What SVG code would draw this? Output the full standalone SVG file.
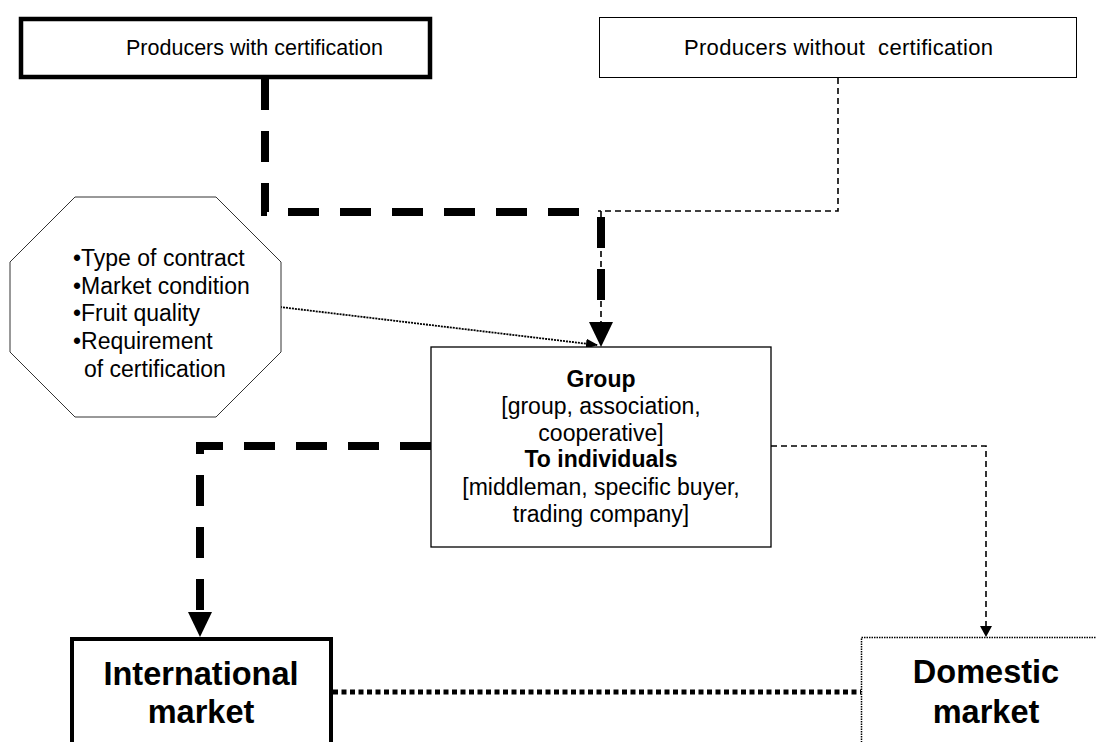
<svg xmlns="http://www.w3.org/2000/svg" width="1096" height="742" viewBox="0 0 1096 742">
<style>
text{font-family:"Liberation Sans",Arial,sans-serif;fill:#000}
.t21{font-size:21.5px}
.t23{font-size:23px}
.big{font-size:32.5px;font-weight:bold}
.b{font-weight:bold}
.thick{fill:none;stroke:#000;stroke-width:8;stroke-dasharray:31 21}
.thin{fill:none;stroke:#000;stroke-width:1.6;stroke-dasharray:6 4}
</style>
<defs>
<marker id="sm" markerWidth="12" markerHeight="10" refX="11" refY="5" orient="auto" markerUnits="userSpaceOnUse">
<path d="M0,0 L12,5 L0,10 Z" fill="#000"/>
</marker>
</defs>
<rect width="1096" height="742" fill="#fff"/>
<g id="connectors">
<path class="thick" d="M265,79 V212 H583"/>
<path class="thin" d="M838,78 V211 H598"/>
<path class="thin" d="M601,211 V324"/>
<path class="thick" d="M601,217 V300" stroke-dasharray="30 23"/>
<path d="M589,322 L613,322 L601,347 Z" fill="#000"/>
<path d="M280,307 L597,345" fill="none" stroke="#000" stroke-width="1.8" stroke-dasharray="2 1" marker-end="url(#sm)"/>
<path class="thick" d="M431,446 H200 V613"/>
<path d="M188,612 L212,612 L200,637 Z" fill="#000"/>
<path class="thin" d="M771,446 H986 V628"/>
<path d="M980,626 L992,626 L986,637 Z" fill="#000"/>
<path d="M333,692 H861" fill="none" stroke="#000" stroke-width="5" stroke-dasharray="5 3.5"/>
</g>
<g id="producers-with">
<rect x="21" y="19" width="409" height="58" fill="#fff" stroke="#000" stroke-width="4.5"/>
<text class="t21" x="254.5" y="55" text-anchor="middle">Producers with certification</text>
</g>
<g id="producers-without">
<rect x="599.5" y="17.5" width="477" height="60" fill="#fff" stroke="#000" stroke-width="1"/>
<text x="684" y="55" font-size="22" textLength="309" lengthAdjust="spacing" xml:space="preserve">Producers without  certification</text>
</g>
<g id="factors">
<polygon points="75,197 216,197 281,262 281,352 216,417 75,417 10,352 10,262" fill="#fff" stroke="#333" stroke-width="1"/>
<text class="t23" x="73" y="266">•Type of contract</text>
<text class="t23" x="73" y="293.5">•Market condition</text>
<text class="t23" x="73" y="321">•Fruit quality</text>
<text class="t23" x="73" y="349">•Requirement</text>
<text class="t23" x="84" y="376.5">of certification</text>
</g>
<g id="group">
<rect x="431" y="347" width="340" height="200" fill="#fff" stroke="#000" stroke-width="1.3"/>
<text class="t23 b" x="601" y="387" text-anchor="middle">Group</text>
<text class="t23" x="601" y="414" text-anchor="middle">[group, association,</text>
<text class="t23" x="601" y="441" text-anchor="middle">cooperative]</text>
<text class="t23 b" x="601" y="467" text-anchor="middle">To individuals</text>
<text class="t23" x="601" y="495" text-anchor="middle">[middleman, specific buyer,</text>
<text class="t23" x="601" y="522" text-anchor="middle">trading company]</text>
</g>
<g id="international">
<rect x="72" y="639" width="259" height="120" fill="#fff" stroke="#000" stroke-width="4"/>
<text class="big" x="201" y="685" text-anchor="middle">International</text>
<text class="big" x="201" y="723" text-anchor="middle">market</text>
</g>
<g id="domestic">
<rect x="861.5" y="637.5" width="250" height="120" fill="#fff" stroke="#000" stroke-width="1.5" stroke-dasharray="1.5 1"/>
<text class="big" x="986" y="683" text-anchor="middle">Domestic</text>
<text class="big" x="986" y="723" text-anchor="middle">market</text>
</g>
</svg>
